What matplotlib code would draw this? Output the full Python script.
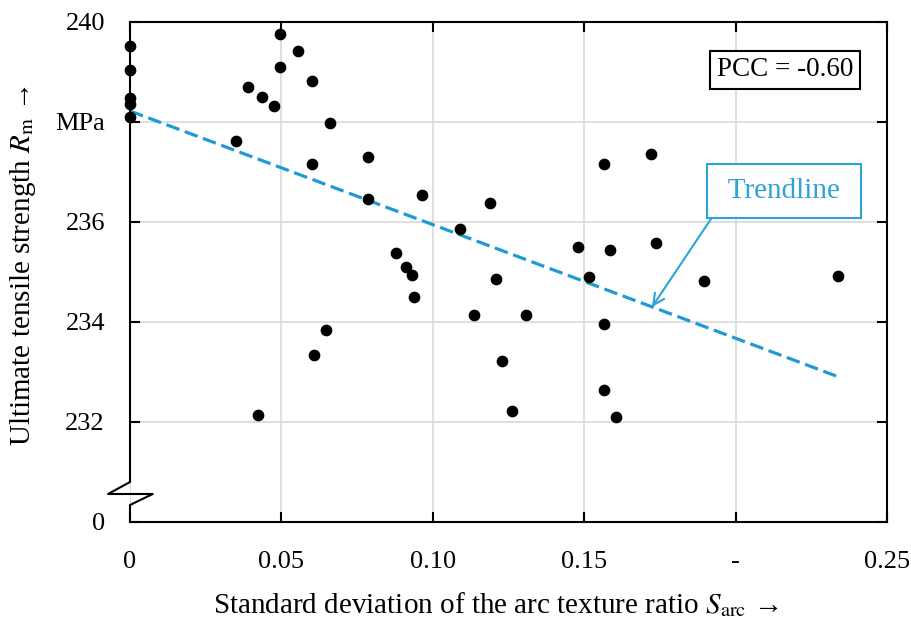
import matplotlib.pyplot as plt

plt.rcParams['font.family'] = ['Liberation Serif', 'DejaVu Serif']
plt.rcParams['mathtext.fontset'] = 'stix'

# standard deviation of arc texture ratio vs. ultimate tensile strength (MPa)
s_arc = [0, 0, 0, 0, 0,
         0.0349, 0.0390, 0.0423, 0.0436, 0.0474, 0.0495, 0.0495, 0.0555,
         0.0600, 0.0600, 0.0608, 0.0648, 0.0660, 0.0787, 0.0787,
         0.0878, 0.0912, 0.0932, 0.0938, 0.0965, 0.1091, 0.1136, 0.1189,
         0.1210, 0.1229, 0.1262, 0.1308, 0.1480, 0.1515,
         0.1567, 0.1567, 0.1567, 0.1586, 0.1605, 0.1719, 0.1738,
         0.1897, 0.2338]
rm = [239.52, 239.04, 238.48, 238.36, 238.10,
      237.62, 238.70, 232.14, 238.50, 238.33, 239.77, 239.10, 239.42,
      238.82, 237.17, 233.34, 233.85, 237.98, 237.31, 236.47,
      235.38, 235.10, 234.94, 234.50, 236.54, 235.86, 234.15, 236.38,
      234.86, 233.22, 232.22, 234.15, 235.50, 234.90,
      237.17, 233.97, 232.64, 235.45, 232.10, 237.37, 235.58,
      234.83, 234.93]

trend_x = [0, 0.235]
trend_y = [238.22, 232.88]
pcc = -0.60

xticks = [0, 0.05, 0.10, 0.15, 0.20, 0.25]
xticklabels = ['0', '0.05', '0.10', '0.15', '-', '0.25']
yticks = [230, 232, 234, 236, 238, 240]
yticklabels = ['0', '232', '234', '236', 'MPa', '240']

blue = '#1f9ad6'
label_blue = '#2ea3d6'

fig = plt.figure(figsize=(9.11, 6.19), dpi=100)
ax = fig.add_axes([130 / 911, 1 - 522 / 619, 757 / 911, 500 / 619])

ax.grid(True, color='#d9d9d9', linewidth=1.2, zorder=0)
ax.scatter(s_arc, rm, s=55, color='black', zorder=3, clip_on=False)
ax.plot(trend_x, trend_y, color=blue, linewidth=2.3, linestyle=(0, (4.3, 1.8)), zorder=2)

ax.set_xlim(0, 0.25)
ax.set_ylim(230, 240)
ax.set_xticks(xticks)
ax.set_xticklabels(xticklabels)
ax.set_yticks(yticks)
ax.set_yticklabels(yticklabels)
ax.tick_params(direction='in', top=True, right=True, length=7, width=1.5,
               labelsize=19)
ax.tick_params(axis='y', pad=18)
ax.tick_params(axis='x', pad=21)

for side in ['top', 'right', 'bottom']:
    ax.spines[side].set_linewidth(1.5)
ax.spines['left'].set_visible(False)
# left spine with axis break
ax.plot([0, 0, -0.029, 0.030, 0, 0], [1, 0.08, 0.056, 0.056, 0.034, 0],
        transform=ax.transAxes, color='black', linewidth=1.5, clip_on=False,
        zorder=4)

ax.set_xlabel(r'Standard deviation of the arc texture ratio $S_\mathrm{arc}$ →',
              fontsize=21)
ax.xaxis.set_label_coords(0.484, -0.136)
ax.set_ylabel(r'Ultimate tensile strength $R_\mathrm{m}$ →', fontsize=21)
ax.yaxis.set_label_coords(-0.1215, 0.514)

ax.text(0.2163, 239.04, 'PCC = %.2f' % pcc, fontsize=19.5, ha='center', va='center',
        bbox=dict(boxstyle='square,pad=0.25', facecolor='white',
                  edgecolor='black', linewidth=1.5), zorder=5)

ax.annotate(' Trendline ', xy=(0.1724, 234.30), xytext=(0.216, 236.62),
            fontsize=21, color=label_blue, ha='center', va='center',
            bbox=dict(boxstyle='square,pad=0.47', facecolor='white',
                      edgecolor=label_blue, linewidth=1.5),
            arrowprops=dict(arrowstyle='->', color=label_blue, lw=1.5,
                            relpos=(0, 0), shrinkA=0, shrinkB=0,
                            mutation_scale=20),
            zorder=5)

fig.savefig('out.png', dpi=100)
